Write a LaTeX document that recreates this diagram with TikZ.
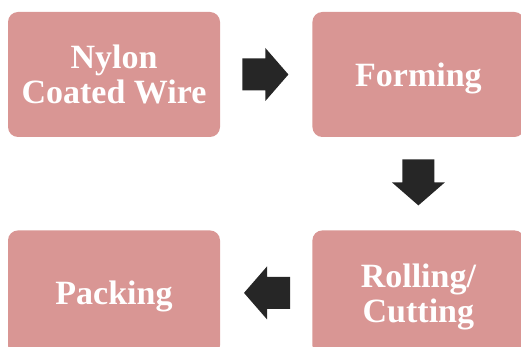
\documentclass[tikz,border=0pt]{standalone}
\usepackage{fontspec}
\setmainfont{Liberation Serif}
\usetikzlibrary{positioning,shapes.arrows}
\definecolor{boxpink}{HTML}{D99694}
\definecolor{arrowgray}{HTML}{262626}
\begin{document}
\begin{tikzpicture}[x=1pt,y=1pt,node distance=92pt,
    stage/.style={rectangle,rounded corners=10pt,fill=boxpink,text=white,minimum width=212pt,minimum height=125pt,text depth=0pt,align=center,font=\fontsize{34}{35}\selectfont\bfseries},
    blockarrow/.style={single arrow,fill=arrowgray,anchor=tail,inner xsep=0pt,inner ysep=15.8pt,minimum height=46pt,single arrow head extend=10.5pt,single arrow tip angle=98}]
    \useasboundingbox (0,0) rectangle (521,-347);
    \clip (0,0) rectangle (521,-347);
    \node[stage] (A) at (114,-74.5) {Nylon\\ Coated Wire};
    \node[stage] (B) [right=of A] {Forming};
    \node[stage] (C) [below=93pt of B] {Rolling/\\ Cutting};
    \node[stage] (D) [left=of C] {Packing};
    % block arrows between the stages
    \node[blockarrow] (AB) at ([xshift=22pt]A.east) {};
    \node[blockarrow,rotate=-90] (BC) at ([yshift=-22pt]B.south) {};
    \node[blockarrow,rotate=180] (CD) at ([xshift=-22pt]C.west) {};
\end{tikzpicture}
\end{document}
